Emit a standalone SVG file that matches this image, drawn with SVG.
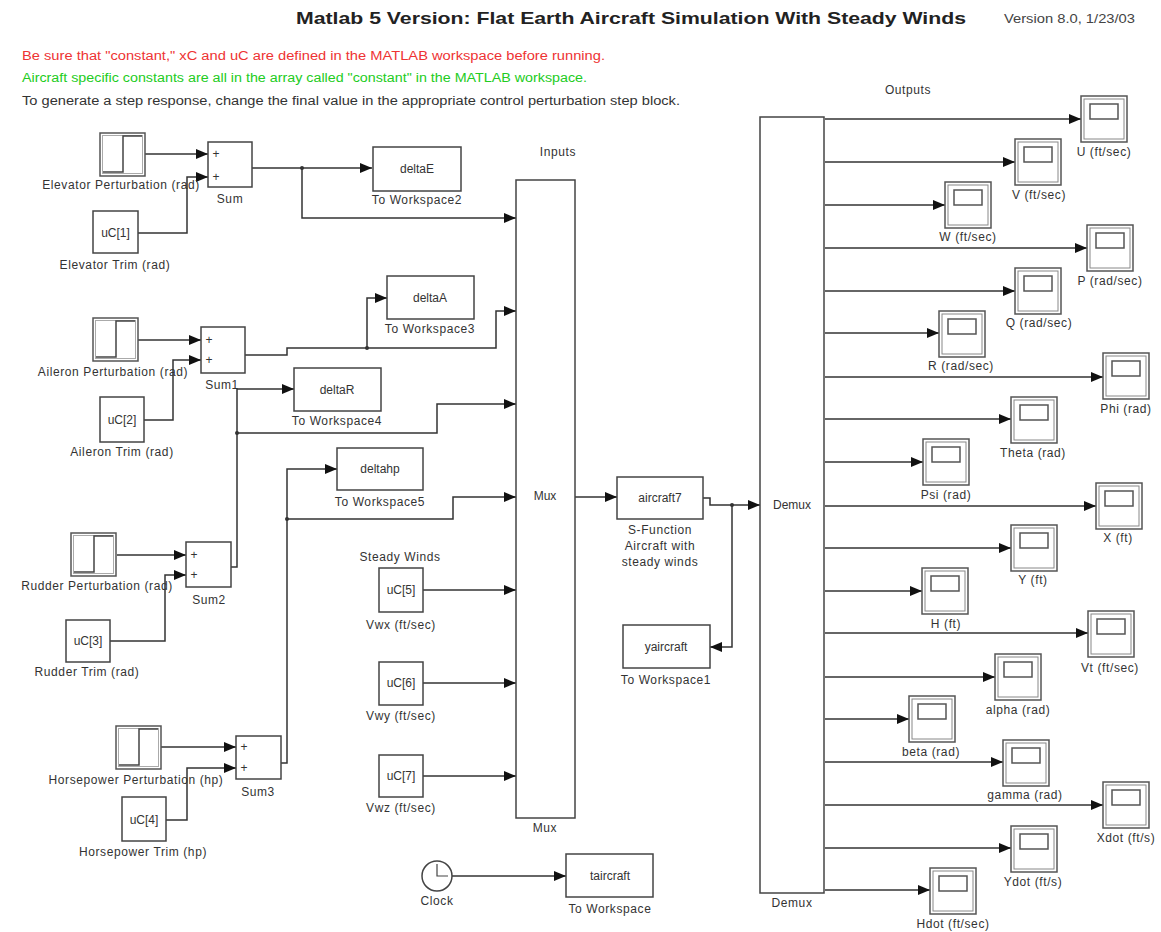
<svg xmlns="http://www.w3.org/2000/svg" xmlns:xlink="http://www.w3.org/1999/xlink" width="1161" height="932" viewBox="0 0 1161 932">
<style>
.blk{fill:#fff;stroke:#444;stroke-width:1.5}
.t{font-family:"Liberation Sans",Arial,sans-serif;font-size:12px;fill:#333;text-anchor:middle;letter-spacing:0.6px}
.in{font-family:"Liberation Sans",Arial,sans-serif;font-size:12px;fill:#333;text-anchor:middle}
.w{fill:none;stroke:#333;stroke-width:1.5}
.a{fill:none;stroke:#333;stroke-width:1.5;marker-end:url(#arr)}
.hdr{font-family:"Liberation Sans",Arial,sans-serif;font-size:12px}
</style>
<defs>
<marker id="arr" markerUnits="userSpaceOnUse" markerWidth="13" markerHeight="11" refX="12" refY="5" orient="auto"><path d="M0,0 L12,5 L0,10 z" fill="#111"/></marker>
<g id="scope"><rect x="0" y="0" width="46" height="46" fill="#fff" stroke="#555" stroke-width="1.5"/><rect x="3" y="3" width="40" height="40" fill="none" stroke="#888" stroke-width="1"/><rect x="9" y="8" width="28" height="15" fill="none" stroke="#555" stroke-width="1.5"/></g>
<g id="step"><rect x="0" y="0" width="45" height="43" fill="#fff" stroke="#555" stroke-width="1.5"/><rect x="2.5" y="2.5" width="40" height="38" fill="none" stroke="#aaa" stroke-width="1"/><path d="M3,39 H23 V3 H42" fill="none" stroke="#444" stroke-width="1.5"/></g>
</defs>
<rect width="1161" height="932" fill="#fff"/>
<g id="header">
<text x="631" y="24" font-family="Liberation Sans,Arial,sans-serif" font-size="17" font-weight="bold" fill="#222" text-anchor="middle" textLength="670" lengthAdjust="spacingAndGlyphs">Matlab 5 Version: Flat Earth Aircraft Simulation With Steady Winds</text>
<text x="1004" y="23" class="hdr" font-size="11" fill="#444" textLength="131" lengthAdjust="spacingAndGlyphs">Version 8.0, 1/23/03</text>
<text x="22" y="60" class="hdr" fill="#ee3333" textLength="583" lengthAdjust="spacingAndGlyphs">Be sure that "constant," xC and uC are defined in the MATLAB workspace before running.</text>
<text x="22" y="82" class="hdr" fill="#22cc22" textLength="565" lengthAdjust="spacingAndGlyphs">Aircraft specific constants are all in the array called "constant" in the MATLAB workspace.</text>
<text x="22" y="105" class="hdr" fill="#333" textLength="658" lengthAdjust="spacingAndGlyphs">To generate a step response, change the final value in the appropriate control perturbation step block.</text>
</g>
<g id="connectors">
<path class="a" d="M145,154 H208"/>
<path class="a" d="M138,233 H187 V177 H208"/>
<path class="a" d="M252,168 H372"/>
<path class="a" d="M302,168 V218 H516"/>
<path class="a" d="M138,340 H201"/>
<path class="a" d="M144,420 H173 V360 H201"/>
<path class="a" d="M245,355 H287 V348 H496 V311 H516"/>
<path class="a" d="M367,348 V298 H387"/>
<path class="a" d="M117,555 H186"/>
<path class="a" d="M110,641 H165 V575 H186"/>
<path class="a" d="M231,567 H237 V389 H294"/>
<path class="a" d="M237,433 H437 V404 H516"/>
<path class="a" d="M159,747 H236"/>
<path class="a" d="M166,820 H187 V768 H236"/>
<path class="a" d="M281,763 H287 V469 H337"/>
<path class="a" d="M287,519 H453 V497 H516"/>
<path class="a" d="M423,590 H516"/>
<path class="a" d="M423,683 H516"/>
<path class="a" d="M423,776 H516"/>
<path class="a" d="M575,497 H617"/>
<path class="a" d="M703,498 H710 V505 H760"/>
<path class="a" d="M732,505 V647 H710"/>
<path class="a" d="M452,876 H566"/>
<circle cx="302" cy="168" r="2" fill="#333"/>
<circle cx="367" cy="348" r="2" fill="#333"/>
<circle cx="237" cy="433" r="2" fill="#333"/>
<circle cx="287" cy="519" r="2" fill="#333"/>
<circle cx="732" cy="505" r="2" fill="#333"/>
<path class="a" d="M825,119 H1081"/>
<path class="a" d="M825,162 H1015"/>
<path class="a" d="M825,205 H945"/>
<path class="a" d="M825,248 H1087"/>
<path class="a" d="M825,291 H1015"/>
<path class="a" d="M825,333 H939"/>
<path class="a" d="M825,377 H1103"/>
<path class="a" d="M825,419 H1011"/>
<path class="a" d="M825,462 H923"/>
<path class="a" d="M825,506 H1096"/>
<path class="a" d="M825,548 H1011"/>
<path class="a" d="M825,591 H922"/>
<path class="a" d="M825,633 H1088"/>
<path class="a" d="M825,677 H995"/>
<path class="a" d="M825,719 H909"/>
<path class="a" d="M825,762 H1003"/>
<path class="a" d="M825,805 H1103"/>
<path class="a" d="M825,848 H1011"/>
<path class="a" d="M825,890 H930"/>
</g>
<g id="elev-step"><use xlink:href="#step" x="100" y="133"/><text class="t" x="121" y="189">Elevator Perturbation (rad)</text></g>
<g id="elev-trim"><rect class="blk" x="93" y="211" width="45" height="42"/><text class="in" x="115.5" y="237">uC[1]</text><text class="t" x="115" y="269">Elevator Trim (rad)</text></g>
<g id="sum"><rect class="blk" x="208" y="142" width="44" height="45"/><text class="in" x="216" y="158">+</text><text class="in" x="216" y="181">+</text><text class="t" x="230" y="203">Sum</text></g>
<g id="deltaE"><rect class="blk" x="373" y="147" width="88" height="44"/><text class="in" x="417" y="173">deltaE</text><text class="t" x="417" y="204">To Workspace2</text></g>
<g id="ail-step"><use xlink:href="#step" x="93" y="318"/><text class="t" x="113" y="376">Aileron Perturbation (rad)</text></g>
<g id="sum1"><rect class="blk" x="201" y="327" width="44" height="46"/><text class="in" x="209" y="344">+</text><text class="in" x="209" y="364">+</text><text class="t" x="222" y="389">Sum1</text></g>
<g id="ail-trim"><rect class="blk" x="100" y="397" width="44" height="45"/><text class="in" x="122" y="424">uC[2]</text><text class="t" x="122" y="456">Aileron Trim (rad)</text></g>
<g id="deltaA"><rect class="blk" x="387" y="276" width="87" height="43"/><text class="in" x="430" y="302">deltaA</text><text class="t" x="430" y="333">To Workspace3</text></g>
<g id="deltaR"><rect class="blk" x="294" y="368" width="87" height="43"/><text class="in" x="337" y="394">deltaR</text><text class="t" x="337" y="425">To Workspace4</text></g>
<g id="rud-step"><use xlink:href="#step" x="71" y="533"/><text class="t" x="97" y="590">Rudder Perturbation (rad)</text></g>
<g id="sum2"><rect class="blk" x="186" y="542" width="45" height="45"/><text class="in" x="194" y="559">+</text><text class="in" x="194" y="579">+</text><text class="t" x="209" y="604">Sum2</text></g>
<g id="rud-trim"><rect class="blk" x="66" y="620" width="44" height="42"/><text class="in" x="88" y="645">uC[3]</text><text class="t" x="87" y="676">Rudder Trim (rad)</text></g>
<g id="deltahp"><rect class="blk" x="337" y="448" width="86" height="42"/><text class="in" x="380" y="473">deltahp</text><text class="t" x="380" y="506">To Workspace5</text></g>
<g id="hp-step"><use xlink:href="#step" x="116" y="726"/><text class="t" x="136" y="784">Horsepower Perturbation (hp)</text></g>
<g id="sum3"><rect class="blk" x="236" y="736" width="45" height="43"/><text class="in" x="244" y="751">+</text><text class="in" x="244" y="772">+</text><text class="t" x="258" y="796">Sum3</text></g>
<g id="hp-trim"><rect class="blk" x="122" y="797" width="44" height="44"/><text class="in" x="144" y="824">uC[4]</text><text class="t" x="143" y="856">Horsepower Trim (hp)</text></g>
<g id="wind-x"><text class="t" x="400" y="561">Steady Winds</text><rect class="blk" x="379" y="568" width="44" height="44"/><text class="in" x="401" y="594">uC[5]</text><text class="t" x="401" y="629">Vwx (ft/sec)</text></g>
<g id="wind-y"><rect class="blk" x="379" y="662" width="44" height="43"/><text class="in" x="401" y="687">uC[6]</text><text class="t" x="401" y="720">Vwy (ft/sec)</text></g>
<g id="wind-z"><rect class="blk" x="379" y="755" width="44" height="42"/><text class="in" x="401" y="780">uC[7]</text><text class="t" x="401" y="812">Vwz (ft/sec)</text></g>
<g id="clock"><circle cx="437" cy="876" r="15" fill="#fff" stroke="#444" stroke-width="1.5"/><path d="M437,864 V876 H448" fill="none" stroke="#444" stroke-width="1.2"/><text class="t" x="437" y="905">Clock</text></g>
<g id="taircraft"><rect class="blk" x="566" y="854" width="87" height="43"/><text class="in" x="610" y="880">taircraft</text><text class="t" x="610" y="913">To Workspace</text></g>
<g id="mux"><text class="t" x="558" y="156">Inputs</text><rect class="blk" x="516" y="180" width="59" height="638"/><text class="in" x="545" y="500">Mux</text><text class="t" x="545" y="832">Mux</text></g>
<g id="aircraft"><rect class="blk" x="617" y="477" width="86" height="42"/><text class="in" x="660" y="502">aircraft7</text><text class="t" x="660" y="534">S-Function</text><text class="t" x="660" y="550">Aircraft with</text><text class="t" x="660" y="566">steady winds</text></g>
<g id="yaircraft"><rect class="blk" x="623" y="625" width="87" height="43"/><text class="in" x="666" y="651">yaircraft</text><text class="t" x="666" y="684">To Workspace1</text></g>
<g id="demux"><text class="t" x="908" y="94">Outputs</text><rect class="blk" x="760" y="117" width="64" height="776"/><text class="in" x="792" y="509">Demux</text><text class="t" x="792" y="907">Demux</text></g>
<g id="scope-U"><use xlink:href="#scope" x="1081" y="96"/><text class="t" x="1104" y="156">U (ft/sec)</text></g>
<g id="scope-V"><use xlink:href="#scope" x="1015" y="139"/><text class="t" x="1039" y="199">V (ft/sec)</text></g>
<g id="scope-W"><use xlink:href="#scope" x="945" y="182"/><text class="t" x="968" y="241">W (ft/sec)</text></g>
<g id="scope-P"><use xlink:href="#scope" x="1087" y="225"/><text class="t" x="1110" y="285">P (rad/sec)</text></g>
<g id="scope-Q"><use xlink:href="#scope" x="1015" y="268"/><text class="t" x="1039" y="327">Q (rad/sec)</text></g>
<g id="scope-R"><use xlink:href="#scope" x="939" y="311"/><text class="t" x="961" y="370">R (rad/sec)</text></g>
<g id="scope-Phi"><use xlink:href="#scope" x="1103" y="353"/><text class="t" x="1126" y="413">Phi (rad)</text></g>
<g id="scope-Theta"><use xlink:href="#scope" x="1011" y="397"/><text class="t" x="1033" y="457">Theta (rad)</text></g>
<g id="scope-Psi"><use xlink:href="#scope" x="923" y="439"/><text class="t" x="946" y="499">Psi (rad)</text></g>
<g id="scope-X"><use xlink:href="#scope" x="1096" y="483"/><text class="t" x="1118" y="542">X (ft)</text></g>
<g id="scope-Y"><use xlink:href="#scope" x="1011" y="525"/><text class="t" x="1033" y="584">Y (ft)</text></g>
<g id="scope-H"><use xlink:href="#scope" x="922" y="568"/><text class="t" x="946" y="628">H (ft)</text></g>
<g id="scope-Vt"><use xlink:href="#scope" x="1088" y="611"/><text class="t" x="1110" y="672">Vt (ft/sec)</text></g>
<g id="scope-alpha"><use xlink:href="#scope" x="995" y="654"/><text class="t" x="1018" y="714">alpha (rad)</text></g>
<g id="scope-beta"><use xlink:href="#scope" x="909" y="696"/><text class="t" x="931" y="756">beta (rad)</text></g>
<g id="scope-gamma"><use xlink:href="#scope" x="1003" y="740"/><text class="t" x="1025" y="799">gamma (rad)</text></g>
<g id="scope-Xdot"><use xlink:href="#scope" x="1103" y="782"/><text class="t" x="1126" y="842">Xdot (ft/s)</text></g>
<g id="scope-Ydot"><use xlink:href="#scope" x="1011" y="826"/><text class="t" x="1033" y="886">Ydot (ft/s)</text></g>
<g id="scope-Hdot"><use xlink:href="#scope" x="930" y="868"/><text class="t" x="953" y="928">Hdot (ft/sec)</text></g>
</svg>
